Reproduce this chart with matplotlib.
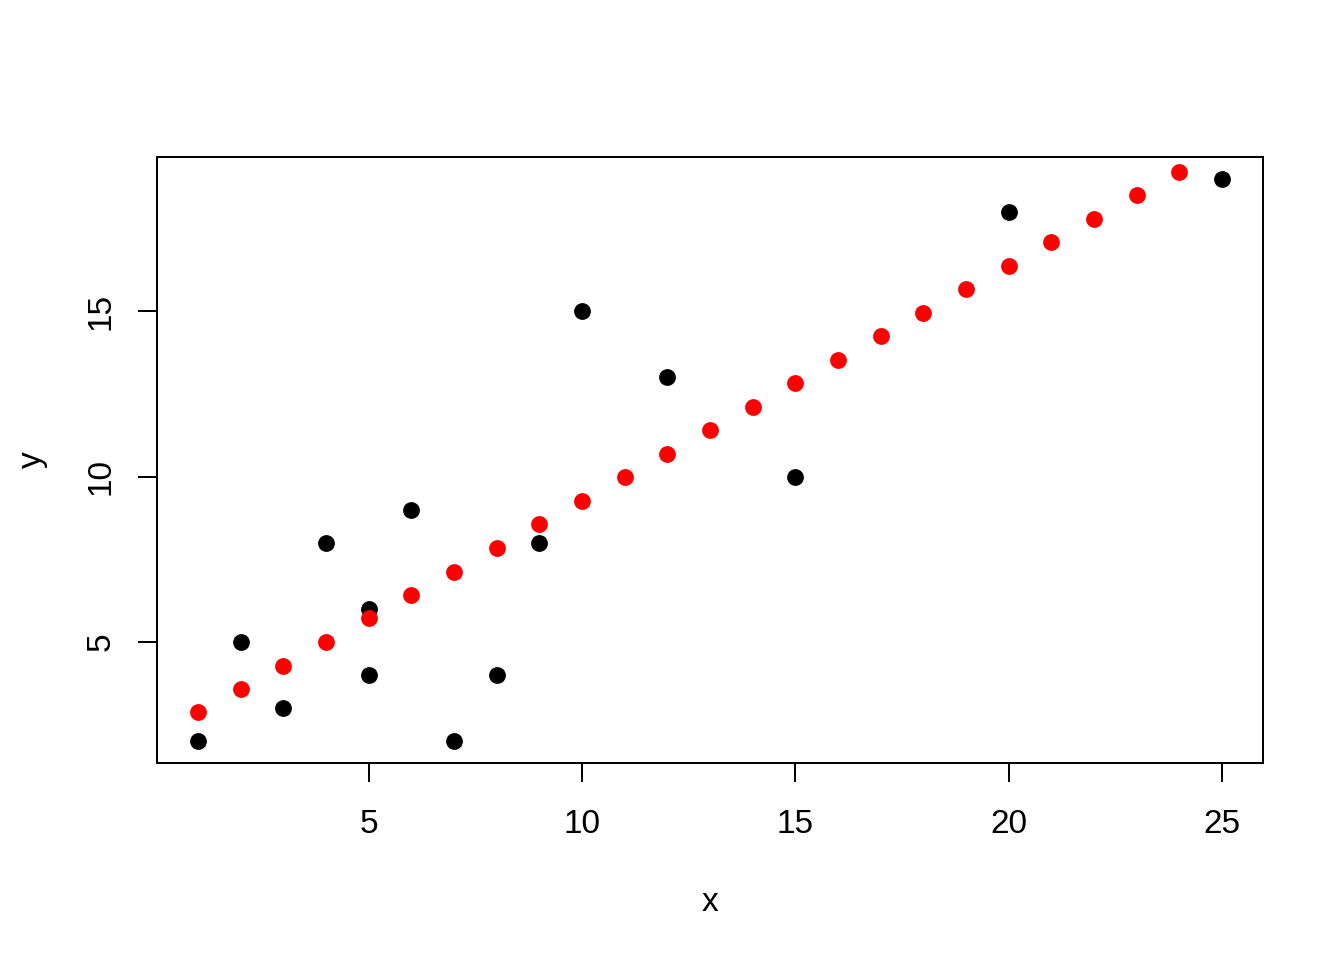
import matplotlib
matplotlib.use('Agg')
import matplotlib.pyplot as plt

# observed points
obs_x = [1, 2, 3, 4, 5, 5, 6, 7, 8, 9, 10, 12, 15, 20, 25]
obs_y = [2, 5, 3, 8, 6, 4, 9, 2, 4, 8, 15, 13, 10, 18, 19]

# fitted points (red)
fit_x = list(range(1, 25))
fit_y = [2.85, 3.55, 4.27, 4.98, 5.70, 6.40, 7.12, 7.84, 8.55, 9.26,
         9.97, 10.69, 11.40, 12.11, 12.82, 13.54, 14.25, 14.96, 15.67,
         16.39, 17.10, 17.81, 18.52, 19.24]

x_ticks = [5, 10, 15, 20, 25]
y_ticks = [5, 10, 15]

plt.rcParams['font.family'] = ['Liberation Sans', 'DejaVu Sans']
plt.rcParams['font.size'] = 12

fig = plt.figure(figsize=(7, 5), dpi=192)
ax = fig.add_axes([157 / 1344, 1 - 763 / 960, (1263 - 157) / 1344, (763 - 157) / 960])

ax.plot(obs_x, obs_y, 'o', color='black', markersize=6.3, markeredgewidth=0)
ax.plot(fit_x, fit_y, 'o', color='red', markersize=6.3, markeredgewidth=0)

# R style axis extension of 4%, range taken from the first plotted series
def ext(lo, hi):
    d = (hi - lo) * 0.04
    return lo - d, hi + d

ax.set_xlim(*ext(min(obs_x), max(obs_x)))
ax.set_ylim(*ext(min(obs_y), max(obs_y)))

ax.set_xticks(x_ticks)
ax.set_yticks(y_ticks)
ax.set_yticklabels([str(v) for v in y_ticks], rotation=90, va='center')
ax.tick_params(direction='out', length=7.2, width=0.75, labelsize=12.5)
ax.tick_params(axis='x', pad=10)
ax.tick_params(axis='y', pad=8)
for s in ax.spines.values():
    s.set_linewidth(0.75)

ax.set_xlabel('x', labelpad=17.5, fontsize=12.5)
ax.set_ylabel('y', labelpad=14, fontsize=12.5)

fig.savefig('out.png', dpi=192)
